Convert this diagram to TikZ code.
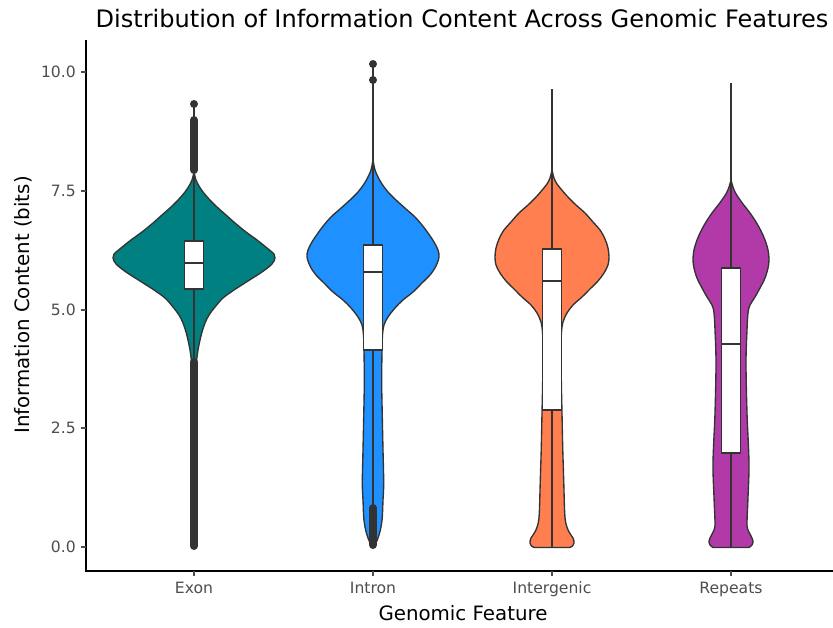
\documentclass[tikz,border=0pt]{standalone}
\usepackage{fontspec}
\setmainfont{DejaVu Sans}
\definecolor{edgegray}{RGB}{51,51,51}
\definecolor{tickgray}{RGB}{77,77,77}
\definecolor{exoncol}{RGB}{0,128,128}
\definecolor{introncol}{RGB}{30,144,255}
\definecolor{intergeniccol}{RGB}{255,127,80}
\definecolor{repeatscol}{RGB}{178,58,168}

% #1 centre x, #2 fill colour, #3 right half outline (half-width, y), #4 bottom y
\newcommand\violinshape[4]{%
  \begin{scope}[shift={(#1,0)}]
    \fill[#2] plot[smooth,tension=0.55] coordinates {#3} -- (0,#4) -- cycle;
    \fill[#2,xscale=-1] plot[smooth,tension=0.55] coordinates {#3} -- (0,#4) -- cycle;
    \draw[outl] plot[smooth,tension=0.55] coordinates {#3} -- (0,#4);
    \draw[outl,xscale=-1] plot[smooth,tension=0.55] coordinates {#3} -- (0,#4);
  \end{scope}}

% #1 centre x, #2 box top, #3 median, #4 box bottom
\newcommand\boxpart[4]{%
  \draw[outl,fill=white] (#1-9.5,#2) rectangle (#1+9.5,#4);
  \draw[edgegray,line width=2.8pt] (#1-9.5,#3) -- (#1+9.5,#3);}

\begin{document}
\begin{tikzpicture}[x=1pt,y=-1pt,
  outl/.style={draw=edgegray,line width=1.35pt,line join=round},
  whisk/.style={draw=edgegray,line width=1.3pt},
  outband/.style={draw=edgegray,line width=8pt,line cap=round},
  outdot/.style={fill=edgegray},
  ticklab/.style={text=tickgray,font=\fontsize{15.6}{18}\selectfont,inner sep=0pt},
  axtitle/.style={text=black,font=\fontsize{19.8}{24}\selectfont,inner sep=0pt},
  axline/.style={draw=black,line width=1.4pt},
  tickmark/.style={draw=tickgray,line width=1.2pt}]
\useasboundingbox (0,0) rectangle (833,627);

% ---- violins ----
\violinshape{194}{exoncol}{(0,172) (2,180) (5,186) (9,192) (15,199) (23,207) (32,215) (41,223) (52,232) (63,240) (73,248) (80,254) (81,258) (78,264) (68,272) (54,281) (40,290) (29,298) (21,307) (15,315) (11,323) (8,332) (6,340) (4,350) (2.5,362) (1.5,380) (1,547)}{547}
\violinshape{373}{introncol}{(0,160) (2,170) (5,177) (9,184) (15,192) (23,200) (33,209) (42,217) (49,225) (55,233) (61,242) (65,250) (66,257) (63,266) (57,275) (49,283) (40,292) (30,300) (22,308) (15,317) (11,325) (9.5,335) (9,350) (8.7,383) (9.3,417) (10,450) (10.7,483) (10,500) (9.3,517) (8,527) (6,535) (3,543) (0,548)}{548}
\violinshape{552}{intergeniccol}{(0,170) (2,178) (5,184) (9,189) (15,196) (24,205) (33,213) (41,222) (48,230) (53,239) (56,248) (57,257) (56,265) (52,273) (46,281) (38,289) (30,297) (21,305) (15,313) (11,322) (9.5,332) (9,347) (9.3,380) (10,413) (10.7,447) (11.7,480) (12.7,513) (14,524) (17,532) (21,538) (22,543) (20,546.5) (17,547.5)}{547.5}
\violinshape{731}{repeatscol}{(0,180) (2,187) (4,192) (7,197) (12,204) (19,213) (25,222) (30,231) (34,240) (37,250) (38,260) (37,268) (34,278) (29,288) (24,297) (19,305) (17,313) (16,330) (15,363) (16,413) (18,463) (17,497) (16,523) (17,530) (20,536) (22,541) (21,545) (18,547.5)}{547.5}

% ---- whiskers ----
\draw[whisk] (194,104) -- (194,547);
\draw[whisk] (373,64) -- (373,547);
\draw[whisk] (552,89) -- (552,547);
\draw[whisk] (731,83) -- (731,547);

% ---- boxes ----
\boxpart{194}{241}{263}{289}
\boxpart{373}{245}{272}{350}
\boxpart{552}{249}{281}{410}
\boxpart{731}{268}{344}{453}

% ---- outliers ----
\fill[outdot] (194,104) circle (4);
\draw[outband] (194,120) -- (194,170);
\draw[outband] (194,362) -- (194,546);
\fill[outdot] (373,64) circle (4);
\fill[outdot] (373,80) circle (4);
\draw[outband] (373,508) -- (373,545);

% ---- axes ----
\draw[axline] (86,40) -- (86,571) -- (833,571);
\foreach \yy/\lab [count=\i] in {72/10.0,191/7.5,310/5.0,428/2.5,547/0.0}{
  \draw[tickmark] (81,\yy) -- (86,\yy);
  \node[ticklab,anchor=east] (ytick\i) at (76,\yy) {\lab};
}
\foreach \xx/\lab [count=\i] in {194/Exon,373/Intron,552/Intergenic,731/Repeats}{
  \draw[tickmark] (\xx,571) -- (\xx,576);
  \node[ticklab,anchor=base] (xtick\i) at (\xx,593) {\lab};
}

% ---- titles ----
\node[axtitle,anchor=base] (xtitle) at (463,620) {Genomic Feature};
\node[axtitle,anchor=base,rotate=90] (ytitle) at (29,305) {Information Content (bits)};
\node[font=\fontsize{24.05}{29}\selectfont,inner sep=0pt,anchor=base] (title) at (462,27) {Distribution of Information Content Across Genomic Features};
\end{tikzpicture}
\end{document}
